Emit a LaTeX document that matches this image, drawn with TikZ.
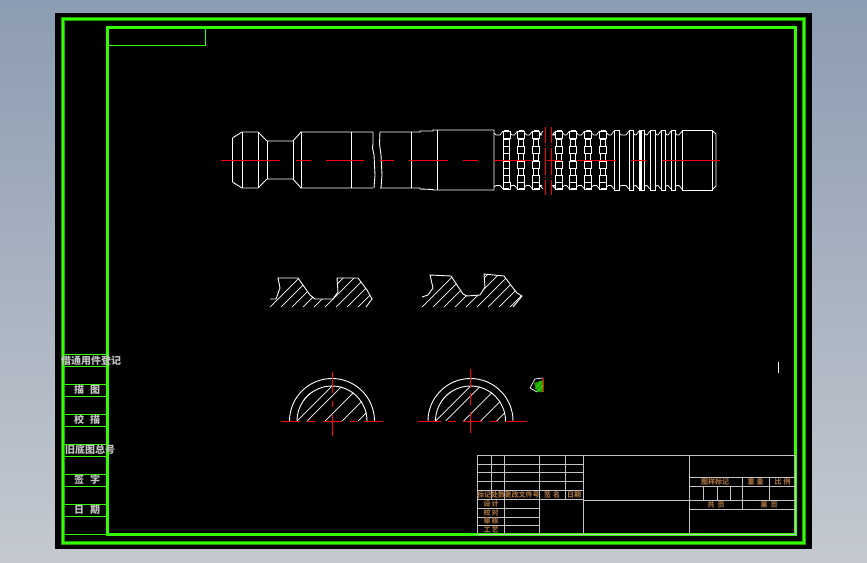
\documentclass[tikz,border=0pt]{standalone}
\usepackage{fontspec}
\newfontfamily\cjk{Noto Sans CJK SC}
\usepackage{tikz}
\usetikzlibrary{calc}
\definecolor{framegreen}{HTML}{33FF00}
\definecolor{darkgreen}{HTML}{1FA000}
\definecolor{tablegrey}{HTML}{C4C4C4}
\definecolor{tantext}{HTML}{A06E40}
\definecolor{sheetred}{HTML}{FF0000}
\definecolor{bgtop}{HTML}{8C9CB2}
\definecolor{bgbottom}{HTML}{C4C9D0}

\begin{document}
\begin{tikzpicture}[x=1pt,y=-1pt,
  line/.style={white,line width=0.9pt},
  thinline/.style={white,line width=0.7pt},
  axis/.style={sheetred,line width=1pt},
  cell/.style={tablegrey,line width=0.7pt},
  row/.style={framegreen,line width=0.8pt},
  sidetext/.style={text=tablegrey,font=\cjk\bfseries\fontsize{10}{10}\selectfont,inner sep=0pt},
  tan/.style={text=tantext,font=\cjk\bfseries\fontsize{7}{7}\selectfont,inner sep=0pt}]
\useasboundingbox (0,0) rectangle (867,562);

% sheet and frames
\shade[top color=bgtop,bottom color=bgbottom] (0,0) rectangle (867,562);
\fill[black] (55,13) rectangle (812,549);
\draw[darkgreen,line width=4pt] (63,19) rectangle (804,543);
\draw[framegreen,line width=2.4pt] (63,19) rectangle (804,543);
\draw[framegreen,line width=3pt] (107,27) rectangle (795,534);
\draw[row,line width=1pt] (107,45)--(205,45)--(205,27);

% side table
\foreach \y in {354,366,384,396,414,426,444,456,474,486,504,516,534}
  \draw[row] (63,\y)--(107,\y);
\node[sidetext] (side1) at (91,361) {借通用件登记};
\node[sidetext] (side2) at (87,390) {描\hspace{6pt}图};
\node[sidetext] (side3) at (87,420) {校\hspace{6pt}描};
\node[sidetext] (side4) at (90,450) {旧底图总号};
\node[sidetext] (side5) at (87,480) {签\hspace{6pt}字};
\node[sidetext] (side6) at (87,510) {日\hspace{6pt}期};

% title block
\draw[cell] (477,455) rectangle (795,534.5);
\draw[cell] (583.5,455)--(583.5,534.5) (689,455)--(689,534.5);
\foreach \y in {464,472.5,481.5,490,499}
  \draw[cell] (477,\y)--(583.5,\y);
\foreach \y in {508.5,517,525.5}
  \draw[cell] (477,\y)--(539.5,\y);
\draw[cell] (491.5,455)--(491.5,499) (565,455)--(565,499);
\draw[cell] (504,455)--(504,534.5) (539.5,455)--(539.5,534.5);
\draw[cell] (583.5,500.5)--(795,500.5);
\draw[cell] (689,477.5)--(795,477.5) (689,486)--(795,486) (689,509.5)--(795,509.5);
\draw[cell] (742,477.5)--(742,509.5) (769,477.5)--(769,500.5);
\draw[cell] (703,486)--(703,500.5) (717,486)--(717,500.5) (730,486)--(730,500.5);
\node[tan] (t1) at (491,494.5) {标记处数};
\node[tan] (t2) at (522,494.5) {更改文件号};
\node[tan] (t3) at (552,494.5) {签\hspace{2pt}名};
\node[tan] (t4) at (574,494.5) {日\hspace{0pt}期};
\node[tan] (t5) at (491,503.5) {设\hspace{1pt}计};
\node[tan] (t6) at (491,512.5) {校\hspace{1pt}对};
\node[tan] (t7) at (491,521) {审\hspace{1pt}核};
\node[tan] (t8) at (491,529.5) {工\hspace{1pt}艺};
\node[tan] (t9) at (715,482) {图样标记};
\node[tan] (t10) at (755.5,482) {重\hspace{2pt}量};
\node[tan] (t11) at (782.5,482) {比\hspace{2pt}例};
\node[tan] (t12) at (716,505) {共\hspace{3pt}页};
\node[tan] (t13) at (769,505) {第\hspace{3pt}页};

% shaft, left part
\draw[line] (232.5,138)--(242,132)--(258,132)--(267,141)--(293,141)--(301,132)--(373,132);
\draw[line] (232.5,182)--(242,188)--(258,188)--(267,179)--(293,179)--(301,188)--(373,188);
\draw[line] (232.5,138)--(232.5,182);
\draw[line] (242,132)--(242,188) (258,132)--(258,188) (267,141)--(267,179) (293,141)--(293,179) (301,132)--(301,188) (351,132)--(351,188);
\draw[line] (373,132)--(373,144)--(372.5,148)--(374,155)--(375,175)--(374,188);
% shaft, middle part
\draw[line] (380,132)--(420,132)--(420,131)--(433,131)--(433,130)--(494,130)--(494,190)--(433,190)--(433,189.5)--(420,189)--(420,188)--(380,188);
\draw[line] (380,132)--(379.5,144)--(381,155)--(382,175)--(381,188);
\draw[line] (411,132)--(411,188) (437,130)--(437,190);

% rings
\foreach \x in {506.5,521,536,559,573,588,603}{
  \draw[line,line width=1.5pt] (\x-2.5,131)--(\x+2.5,131) (\x-2.5,189)--(\x+2.5,189);
  \foreach \y/\s in {131/3.5,139/2.7,146/3.3,153/2.7,161/3.3,168/2.7,175/3.3,182/3.5}
    \draw[line] (\x-\s,\y) rectangle (\x+\s,\y+7);
}
\foreach \a/\b in {494/503,510/517.5,524.5/532.5,539.5/543,553/555.5,562.5/569.5,576.5/584.5,591.5/599.5,606.5/614,619/629,633/639,644/650,655/661,665/671,675/682}{
  \draw[thinline] (\a,133)--(\a+2,135)--(\b-3,135)--(\b,131);
  \draw[thinline] (\a,187)--(\a+2,185.5)--(\b-3,185.5)--(\b,189);
}
% grooves
\foreach \a/\b in {614/619,629/633,639/644,650/655,661/665,671/675}
  \draw[line] (\a,130.5) rectangle (\b,190);
\draw[line,line width=1.4pt] (641,130.5)--(641,190);
\draw[line] (682,130.5) rectangle (712,190);
\draw[line] (712,130.5)--(716,134)--(716,186)--(712,190);

% centre lines
\foreach \a/\b in {221/280,296/311,326/364,380/394,409/448,463/478,494/532,547/562,577/616,631/646,662/720}
  \draw[axis] (\a,160)--(\b,160);
\foreach \x in {545.5,551}{
  \draw[axis] (\x,127)--(\x,143) (\x,145)--(\x,146) (\x,148)--(\x,175) (\x,177)--(\x,178) (\x,180)--(\x,195);
}

% groove sections
\begin{scope}
  \clip (270,307)--(276,299)--(280,288)--(278,278)--(298,278)--(310,295)--(315,299)--(333,299)--(338,292)--(337,278)--(358,278)--(367,290)--(372,299)--(366,307)--cycle;
  \foreach \h in {270,281,...,370}
    \draw[thinline] (\h,307)--++(40,-40);
\end{scope}
\draw[line] (270,299)--(276,299)--(280,288)--(278,278)--(298,278)--(310,295)--(315,299)--(333,299)--(338,292)--(337,278)--(358,278)--(367,290)--(372,299)--(366,307);
\begin{scope}
  \clip (422,307)--(422,297)--(428,295)--(433,288)--(430,275)--(451,276)--(463,294)--(467,296)--(480,295)--(485,287)--(484,274)--(504,276)--(513,288)--(517,293)--(522,296)--(513,307)--cycle;
  \foreach \h in {422,433,...,520}
    \draw[thinline] (\h,307)--++(40,-40);
\end{scope}
\draw[line] (422,297)--(428,295)--(433,288)--(430,275)--(451,276)--(463,294)--(467,296)--(480,295)--(485,287)--(484,274)--(504,276)--(513,288)--(517,293)--(522,296)--(513,307);

% round sections
\foreach \c in {332,470.5}{
  \begin{scope}
    \clip (\c-35.5,421) arc (180:360:35.5) --cycle;
    \foreach \h in {-50,-35,-25,-7,10,26}
      \draw[thinline] (\c+\h,421)--++(60,-60);
  \end{scope}
  \draw[line] (\c-35,421) arc (180:360:35);
  \draw[line] (\c-42.5,421) arc (180:360:42.5);
}
\foreach \a/\b in {281/300,307/315,323/342,350/357,364/383,418/441,448/456,463/482,490/498,505/527}
  \draw[axis] (\a,421.5)--(\b,421.5);
\draw[axis] (332,372)--(332,393) (332,401)--(332,407) (332,415)--(332,436);
\draw[axis] (470.5,369)--(470.5,388) (470.5,393)--(470.5,405) (470.5,412)--(470.5,433);

% small marks
\fill[darkgreen] (534,383)--(543,380)--(543,392)--(537,392)--cycle;
\draw[thinline] (530,388)--(535,379)--(543,378);
\draw[thinline] (530,388)--(537,392);
\draw[framegreen,line width=0.6pt] (535,389)--(541,382) (538,391)--(543,385);
\draw[sheetred,line width=0.8pt] (543,378)--(543,392);
\draw[thinline] (778.5,362)--(778.5,373);
\end{tikzpicture}
\end{document}
